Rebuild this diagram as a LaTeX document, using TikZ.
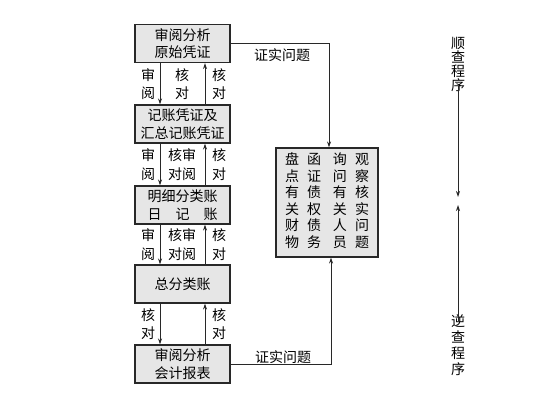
\documentclass[tikz,border=0pt]{standalone}
\usepackage{fontspec}
\newfontfamily\cjk{Noto Sans CJK SC}
\usepackage{tikz}
\usetikzlibrary{calc,positioning,arrows.meta}
\usepackage{xcolor}
\definecolor{boxgray}{RGB}{230,230,230}
\definecolor{linegray}{RGB}{40,40,40}

\begin{document}
\begin{tikzpicture}[x=1pt, y=-1pt, >={Stealth[length=6pt,width=4pt]},
    step box/.style={draw=linegray, line width=1.1pt, fill=boxgray, minimum width=95pt,
      minimum height=38pt, inner sep=1pt, align=center, font=\cjk\fontsize{14}{17.5}\selectfont},
    lbl/.style={inner sep=0pt, align=center, font=\cjk\fontsize{14}{18.5}\selectfont},
    flow/.style={line width=0.9pt, linegray}]
  \useasboundingbox (0,0) rectangle (553,403);
  % Nodes
  \foreach \n/\y/\txt in {1/43.5/{审阅分析\\原始凭证},
                          2/124/{记账凭证及\\汇总记账凭证},
                          3/205/{明细分类账\\日\hspace{1em}记\hspace{1em}账},
                          4/284/{总分类账},
                          5/364/{审阅分析\\会计报表}}{
    \node[step box] (b\n) at (182.5, \y) {\txt};
  }
  \node[draw=linegray, line width=1.1pt, fill=boxgray, minimum width=102pt, minimum height=109pt,
        inner sep=0pt, font=\cjk\fontsize{14}{15.7}\selectfont] (chk) at (327, 202.5)
    {\begin{tabular}{@{}c@{\hspace{8pt}}c@{\hspace{12pt}}c@{\hspace{8pt}}c@{}}
      盘 & 函 & 询 & 观\\ 点 & 证 & 问 & 察\\ 有 & 债 & 有 & 核\\
      关 & 权 & 关 & 实\\ 财 & 债 & 人 & 问\\ 物 & 务 & 员 & 题
    \end{tabular}};
  % Arrows between boxes
  \foreach \i [evaluate=\i as \k using int(\i+1)] in {1,...,4}{
    \draw[flow, ->] ([xshift=-22.5]b\i.south) -- ([xshift=-22.5]b\k.north);
    \draw[flow, ->] ([xshift=22.5]b\k.north) -- ([xshift=22.5]b\i.south);
  }
  % Labels between boxes
  \foreach \y/\ta/\tb in {84/{审\\阅}/{核\\对}, 164.5/{审\\阅}/{核审\\对阅}, 244.5/{审\\阅}/{核审\\对阅}}{
    \node[lbl] at (148, \y) {\ta};
    \node[lbl] at (182, \y) {\tb};
    \node[lbl] at (219, \y) {核\\对};
  }
  \node[lbl] at (148, 324) {核\\对};
  \node[lbl] at (219, 324) {核\\对};
  % Verification
  \draw[flow, ->] (b1.east) -| ([xshift=2]chk.north);
  \draw[flow, ->] (b5.east) -| ([xshift=4]chk.south);
  \node[lbl] at (282, 55) {证实问题};
  \node[lbl] at (283, 357) {证实问题};
  % Order of checking
  \node[lbl, font=\cjk\fontsize{14}{14}\selectfont] (fwd) at (458, 64.5) {顺\\查\\程\\序};
  \node[lbl, font=\cjk\fontsize{14}{16}\selectfont] (bwd) at (458, 345) {逆\\查\\程\\序};
  \coordinate (fwdend) at (458, 197);
  \coordinate (bwdend) at (458, 205);
  \draw[flow, ->] ([yshift=6]fwd.south) -- (fwdend);
  \draw[flow, ->] ([yshift=-7]bwd.north) -- (bwdend);
\end{tikzpicture}
\end{document}
